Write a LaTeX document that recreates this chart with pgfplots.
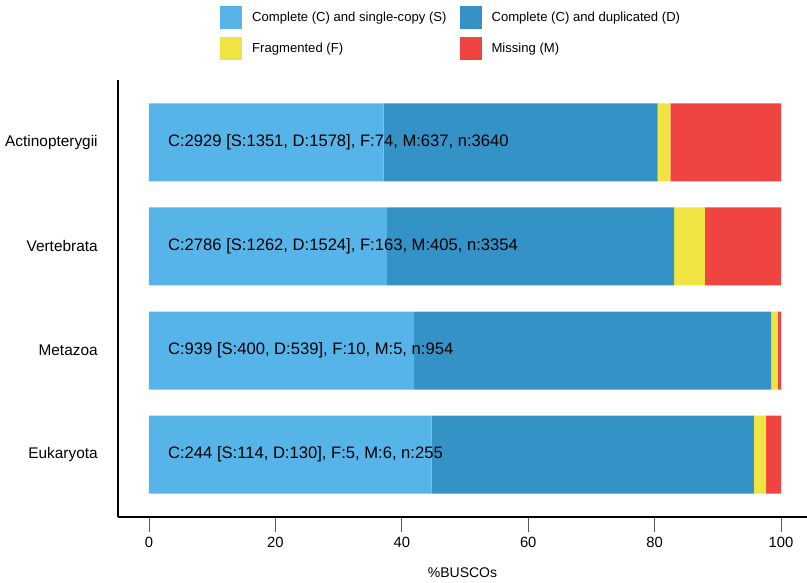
\documentclass[border=0pt]{standalone}
\usepackage{pgfplots}
\pgfplotsset{compat=1.18}
\usepackage{fontspec}
\setmainfont{Liberation Sans}
\definecolor{cS}{HTML}{56B4E9}
\definecolor{cD}{HTML}{3492C7}
\definecolor{cF}{HTML}{F0E442}
\definecolor{cM}{HTML}{F04442}
\begin{document}
\fontsize{15.4}{18}\selectfont
\begin{tikzpicture}
\begin{axis}[
  scale only axis, width=689pt, height=437pt,
  xbar stacked, bar width=78pt,
  xmin=-4.9, xmax=104.1, ymin=-0.6, ymax=3.6,
  axis x line*=bottom, axis y line*=left,
  axis line style={line width=1.8pt, black},
  ytick={0,1,2,3},
  yticklabels={Eukaryota,Metazoa,Vertebrata,Actinopterygii},
  ytick style={draw=none},
  yticklabel style={font=\fontsize{15.4}{18}\selectfont, xshift=-15pt},
  xtick={0,20,40,60,80,100},
  xtick align=outside,
  xtick style={black!65, line width=0.9pt},
  major tick length=15pt,
  xticklabel style={font=\fontsize{14.8}{17}\selectfont},
  /pgf/number format/assume math mode=true,
  xlabel={\%BUSCOs},
  every axis x label/.style={at={(axis description cs:0.5,-0.128)}, anchor=center, font=\fontsize{14}{17}\selectfont},
  legend image code/.code={\fill[#1] (0pt,-11pt) rectangle (22pt,11.5pt);},
  legend columns=2,
  legend cell align=left,
  legend style={at={(0.148,1.169)}, anchor=north west, draw=none, fill=none,
    inner sep=0pt, row sep=8.5pt, font=\fontsize{13.1}{16}\selectfont,
    nodes={inner sep=0pt},
    /tikz/every odd column/.append style={column sep=10pt},
    /tikz/every even column/.append style={column sep=13pt}},
]
\addplot[fill=cS, draw=none] coordinates {(37.12,3) (37.63,2) (41.93,1) (44.71,0)};
\addplot[fill=cD, draw=none] coordinates {(43.35,3) (45.44,2) (56.50,1) (50.98,0)};
\addplot[fill=cF, draw=none] coordinates {(2.03,3) (4.86,2) (1.05,1) (1.96,0)};
\addplot[fill=cM, draw=none] coordinates {(17.50,3) (12.08,2) (0.52,1) (2.35,0)};
\legend{Complete (C) and single-copy (S), Complete (C) and duplicated (D), Fragmented (F), Missing (M)}
\coordinate (t3) at (axis cs:3,3);
\coordinate (t2) at (axis cs:3,2);
\coordinate (t1) at (axis cs:3,1);
\coordinate (t0) at (axis cs:3,0);
\end{axis}
\begin{scope}[every node/.style={anchor=west, inner sep=0pt, font=\fontsize{16.6}{19}\selectfont}]
\node at (t3) {C:2929 [S:1351, D:1578], F:74, M:637, n:3640};
\node at (t2) {C:2786 [S:1262, D:1524], F:163, M:405, n:3354};
\node at (t1) {C:939 [S:400, D:539], F:10, M:5, n:954};
\node at (t0) {C:244 [S:114, D:130], F:5, M:6, n:255};
\end{scope}
\pgfresetboundingbox
\path[use as bounding box] (-118pt,-66pt) rectangle (689pt,517pt);
\end{tikzpicture}
\end{document}
